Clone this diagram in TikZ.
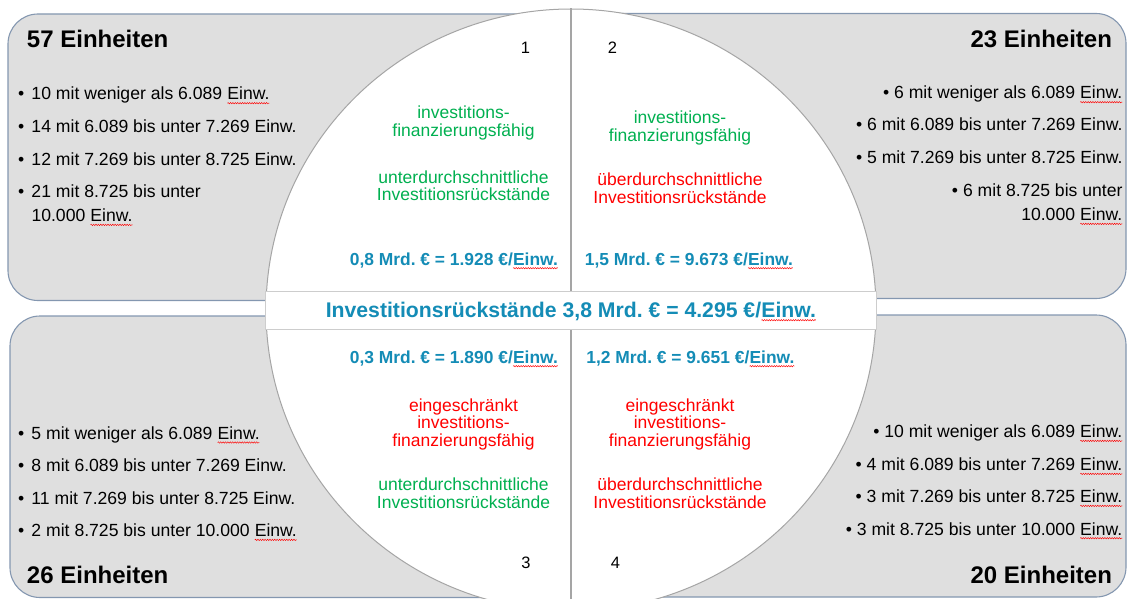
\documentclass[tikz,border=0pt]{standalone}
\usepackage{fontspec}
\setmainfont{Liberation Sans}
\usetikzlibrary{shapes.geometric,decorations.pathmorphing}
\frenchspacing
\definecolor{boxfill}{RGB}{223,223,223}
\definecolor{boxline}{RGB}{132,151,176}
\definecolor{circline}{RGB}{165,165,165}
\definecolor{bandline}{RGB}{205,205,205}
\definecolor{cgreen}{RGB}{0,176,80}
\definecolor{cred}{RGB}{255,0,0}
\definecolor{cblue}{RGB}{20,140,182}
\tikzset{squig/.style={draw=cred, line width=0.45pt, decorate, decoration={snake, amplitude=0.7pt, segment length=2.4pt}}}
\newcommand\sq[1]{\tikz[baseline=(sqw.base)]{\node[inner sep=0pt,outer sep=0pt] (sqw) {#1};\draw[squig] ([yshift=-3.2pt]sqw.base west) -- ([yshift=-3.2pt]sqw.base east);}}
\begin{document}
\begin{tikzpicture}[x=1pt,y=-1pt,
  box/.style={draw=boxline, line width=1.1pt, fill=boxfill, rounded corners=30pt},
  bt/.style={inner sep=0pt, outer sep=0pt, font=\fontsize{17.6}{18}\selectfont, text=black},
  btl/.style={bt, anchor=base west},
  btr/.style={bt, anchor=base east},
  head/.style={inner sep=0pt, outer sep=0pt, font=\bfseries\fontsize{24}{26}\selectfont},
  ct/.style={inner sep=0pt, outer sep=0pt, anchor=base, font=\fontsize{17.5}{18}\selectfont},
  grn/.style={ct, text=cgreen},
  rd/.style={ct, text=cred},
  blu/.style={inner sep=0pt, outer sep=0pt, anchor=base, font=\bfseries\fontsize{17.4}{18}\selectfont, text=cblue},
  num/.style={inner sep=0pt, outer sep=0pt, anchor=base, font=\fontsize{16.5}{18}\selectfont}]
\useasboundingbox (0,0) rectangle (1127,599);
\clip (0,0) rectangle (1127,599);
% boxes
\draw[box] (8,14) rectangle (600,300.5);
\draw[box] (540,13.5) rectangle (1126,298.5);
\draw[box] (10,316) rectangle (600,597.5);
\draw[box] (540,315) rectangle (1126,597);
% circle
\node[ellipse, draw=circline, line width=1pt, fill=white, minimum width=610pt, minimum height=602pt, inner sep=0pt] (circ) at (571,310) {};
\draw[draw=circline, line width=1.5pt] (circ.north) -- (circ.south);
\node[rectangle, draw=bandline, line width=1pt, fill=white, minimum width=611pt, minimum height=38pt, inner sep=0pt] (band) at (571,310) {};
\node[inner sep=0pt, outer sep=0pt, anchor=base, font=\bfseries\fontsize{21.2}{22}\selectfont, text=cblue] (bandtext) at (571,317) {Investitionsrückstände 3,8 Mrd. € = 4.295 €/\sq{Einw.}};
% headings
\node[head, anchor=base west] (h1) at (27,48) {57 Einheiten};
\node[head, anchor=base east] (h2) at (1112,48) {23 Einheiten};
\node[head, anchor=base west] (h3) at (27,583) {26 Einheiten};
\node[head, anchor=base east] (h4) at (1112,583) {20 Einheiten};
% top-left list
\node[btl] (a1) at (18,100) {\makebox[13.5pt][l]{•}10 mit weniger als 6.089 \sq{Einw.}};
\node[btl] (a2) at (18,132) {\makebox[13.5pt][l]{•}14 mit 6.089 bis unter 7.269 Einw.};
\node[btl] (a3) at (18,165) {\makebox[13.5pt][l]{•}12 mit 7.269 bis unter 8.725 Einw.};
\node[btl] (a4) at (18,197) {\makebox[13.5pt][l]{•}21 mit 8.725 bis unter};
\node[btl] (a5) at (31.5,221.7) {10.000 \sq{Einw.}};
% top-right list
\node[btr] (b1) at (1122.5,99) {•~6 mit weniger als 6.089 \sq{Einw.}};
\node[btr] (b2) at (1122.5,131) {•~6 mit 6.089 bis unter 7.269 Einw.};
\node[btr] (b3) at (1122.5,163.3) {•~5 mit 7.269 bis unter 8.725 Einw.};
\node[btr] (b4) at (1122.5,196) {•~6 mit 8.725 bis unter};
\node[btr] (b5) at (1122.5,220.7) {10.000 \sq{Einw.}};
% bottom-left list
\node[btl] (c1) at (18,439.3) {\makebox[13.5pt][l]{•}5 mit weniger als 6.089 \sq{Einw.}};
\node[btl] (c2) at (18,471.7) {\makebox[13.5pt][l]{•}8 mit 6.089 bis unter 7.269 Einw.};
\node[btl] (c3) at (18,504) {\makebox[13.5pt][l]{•}11 mit 7.269 bis unter 8.725 Einw.};
\node[btl] (c4) at (18,536.7) {\makebox[13.5pt][l]{•}2 mit 8.725 bis unter 10.000 \sq{Einw.}};
% bottom-right list
\node[btr] (d1) at (1122.5,437.7) {•~10 mit weniger als 6.089 \sq{Einw.}};
\node[btr] (d2) at (1122.5,470.7) {•~4 mit 6.089 bis unter 7.269 \sq{Einw.}};
\node[btr] (d3) at (1122.5,502.7) {•~3 mit 7.269 bis unter 8.725 \sq{Einw.}};
\node[btr] (d4) at (1122.5,535) {•~3 mit 8.725 bis unter 10.000 \sq{Einw.}};
% quadrant numbers
\node[num] (n1) at (525.5,53.3) {1};
\node[num] (n2) at (612.5,53.3) {2};
\node[num] (n3) at (526,568.3) {3};
\node[num] (n4) at (615.5,568.3) {4};
% quadrant 1
\node[grn] (q1a) at (463.5,119) {investitions-};
\node[grn] (q1b) at (463.5,136.7) {finanzierungsfähig};
\node[grn] (q1c) at (463.5,183.3) {unterdurchschnittliche};
\node[grn] (q1d) at (463.5,200.5) {Investitionsrückstände};
\node[blu] (q1e) at (454,265) {0,8 Mrd. € = 1.928 €/\sq{Einw.}};
% quadrant 2
\node[grn] (q2a) at (680,123.3) {investitions-};
\node[grn] (q2b) at (680,141.5) {finanzierungsfähig};
\node[rd] (q2c) at (680,185) {überdurchschnittliche};
\node[rd] (q2d) at (680,203) {Investitionsrückstände};
\node[blu] (q2e) at (689,265) {1,5 Mrd. € = 9.673 €/\sq{Einw.}};
% quadrant 3
\node[blu] (q3e) at (454,363) {0,3 Mrd. € = 1.890 €/\sq{Einw.}};
\node[rd] (q3a) at (463.5,411) {eingeschränkt};
\node[rd] (q3b) at (463.5,428.5) {investitions-};
\node[rd] (q3c) at (463.5,446) {finanzierungsfähig};
\node[grn] (q3d) at (463.5,490.7) {unterdurchschnittliche};
\node[grn] (q3f) at (463.5,508.3) {Investitionsrückstände};
% quadrant 4
\node[blu] (q4e) at (690.5,363) {1,2 Mrd. € = 9.651 €/\sq{Einw.}};
\node[rd] (q4a) at (680,411) {eingeschränkt};
\node[rd] (q4b) at (680,428.5) {investitions-};
\node[rd] (q4c) at (680,446) {finanzierungsfähig};
\node[rd] (q4d) at (680,490.7) {überdurchschnittliche};
\node[rd] (q4f) at (680,508.3) {Investitionsrückstände};
\end{tikzpicture}
\end{document}
